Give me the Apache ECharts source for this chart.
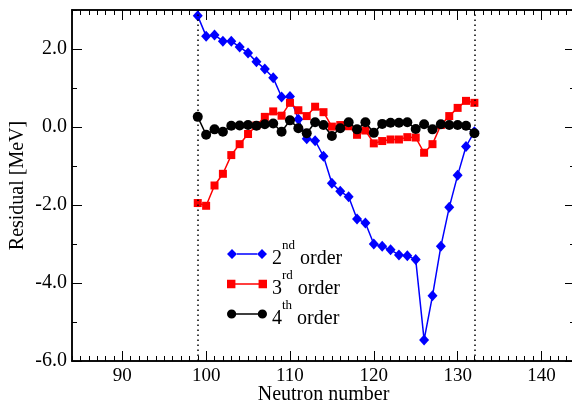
<!DOCTYPE html>
<html>
<head>
<meta charset="utf-8">
<script src="https://cdn.jsdelivr.net/npm/echarts@6/dist/echarts.min.js"></script>
<style>
html,body{margin:0;padding:0;background:#fff;overflow:hidden;}
#wrap{width:572px;height:405px;overflow:hidden;position:relative;}
#chart{width:575px;height:405px;position:absolute;left:0;top:0;}
</style>
</head>
<body>
<div id="wrap"><div id="chart"></div></div>
<script>
// ---- data ----
var neutronNumbers = [99,100,101,102,103,104,105,106,107,108,109,110,111,112,113,114,115,116,117,118,119,120,121,122,123,124,125,126,127,128,129,130,131,132];
var order2 = [2.85,2.33,2.36,2.2,2.2,2.05,1.9,1.67,1.49,1.26,0.77,0.78,0.2,-0.3,-0.35,-0.75,-1.44,-1.65,-1.79,-2.36,-2.46,-3.0,-3.06,-3.15,-3.28,-3.3,-3.4,-5.46,-4.33,-3.06,-2.06,-1.24,-0.5,-0.12];
var order3 = [-1.95,-2.02,-1.5,-1.2,-0.72,-0.44,-0.18,0.04,0.26,0.4,0.29,0.62,0.43,0.28,0.52,0.38,0.01,0.05,0.02,-0.2,-0.09,-0.42,-0.36,-0.32,-0.32,-0.26,-0.27,-0.66,-0.44,0.05,0.28,0.49,0.67,0.62];
var order4 = [0.26,-0.2,-0.06,-0.12,0.03,0.04,0.05,0.03,0.07,0.09,-0.12,0.17,-0.03,-0.16,0.12,0.05,-0.23,-0.03,0.12,-0.06,0.12,-0.15,0.08,0.11,0.11,0.12,-0.05,0.07,-0.06,0.07,0.05,0.05,0.03,-0.16];
var seriesNames = ['2nd order','3rd order','4th order'];
var seriesSup = ['nd','rd','th'];
var xTickValues = [90,100,110,120,130,140];
var yTickValues = [-6,-4,-2,0,2];
var verticalMarks = [99,132];
var xRange = [84,144];
var yRange = [-6,3];

function pairs(xs, ys){ return xs.map(function(x,i){ return [x, ys[i]]; }); }

var FONT = 'Liberation Serif';
var chart = echarts.init(document.getElementById('chart'), null, {renderer:'canvas'});

var iconDiamond = 'path://M0,5L5,0L10,5L5,10Z M30,5L35,0L40,5L35,10Z M10,4.3L30,4.3L30,5.7L10,5.7Z';
var iconSquare = 'path://M1,1L9,1L9,9L1,9Z M31,1L39,1L39,9L31,9Z M9,4.3L31,4.3L31,5.7L9,5.7Z';
var iconCircle = 'path://M0.5,5A4.5,4.5 0 1,1 9.5,5A4.5,4.5 0 1,1 0.5,5Z M30.5,5A4.5,4.5 0 1,1 39.5,5A4.5,4.5 0 1,1 30.5,5Z M9,4.3L31,4.3L31,5.7L9,5.7Z';

function axisLineCfg(show){ return {show:show, onZero:false, lineStyle:{color:'#000', width:1.5}}; }
function xAx(pos, major, withLabel){
  var a = {
    type:'value', position:pos, min:xRange[0], max:xRange[1],
    axisLine: axisLineCfg(true), splitLine:{show:false},
    axisTick:{show:true, inside:true, length: major?10:5, lineStyle:{color:'#000', width:1}},
    axisLabel:{show:false}
  };
  if (major) {
    a.axisTick.customValues = xTickValues;
    a.axisLabel = {show:withLabel, customValues:xTickValues, color:'#000', fontFamily:FONT, fontSize:19, margin:6};
  } else {
    a.interval = 1;
  }
  if (withLabel) {
    a.name = 'Neutron number'; a.nameLocation='middle'; a.nameGap = 24; a.nameMoveOverlap = false;
    a.nameTextStyle = {color:'#000', fontFamily:FONT, fontSize:20};
  }
  return a;
}
function yAx(pos, major, withLabel){
  var a = {
    type:'value', position:pos, min:yRange[0], max:yRange[1],
    axisLine: axisLineCfg(pos === 'left'), splitLine:{show:false},
    axisTick:{show:true, inside:true, length: major?10:5, lineStyle:{color:'#000', width:1}},
    axisLabel:{show:false}
  };
  if (major) {
    a.axisTick.customValues = yTickValues;
    a.axisLabel = {show:withLabel, customValues:yTickValues, color:'#000', fontFamily:FONT, fontSize:20, margin:5,
      formatter:function(v){ return Number(v).toFixed(1); }};
  } else {
    a.interval = 1;
  }
  if (withLabel) {
    a.name = 'Residual [MeV]'; a.nameLocation='middle'; a.nameGap = 44; a.nameMoveOverlap = false;
    a.nameTextStyle = {color:'#000', fontFamily:FONT, fontSize:20};
  }
  return a;
}

var colors = ['#0000ff','#ff0000','#000000'];
var symbols = ['diamond','rect','circle'];
var sizes = [[10,11],8,10];
var datas = [order2, order3, order4];
var icons = [iconDiamond, iconSquare, iconCircle];

var series = datas.map(function(d,i){
  var s = {
    name: seriesNames[i], type:'line', xAxisIndex:0, yAxisIndex:0,
    data: pairs(neutronNumbers, d),
    symbol: symbols[i], symbolSize: sizes[i], showAllSymbol:true,
    lineStyle:{color:colors[i], width:1.5},
    itemStyle:{color:colors[i]},
    animation:false, z: 3+i
  };
  if (i===0) {
    s.markLine = {
      silent:true, symbol:['none','none'], label:{show:false},
      lineStyle:{color:'#000', width:1.5, type:[1.5,3.5]},
      data: verticalMarks.map(function(v){ return {xAxis:v}; }),
      animation:false
    };
  }
  return s;
});

var option = {
  backgroundColor:'#fff',
  animation:false,
  grid:{left:72, top:10, right:0, bottom:44, containLabel:false, outerBoundsMode:'none'},
  xAxis:[xAx('bottom',true,true), xAx('bottom',false,false), xAx('top',true,false), xAx('top',false,false)],
  yAxis:[yAx('left',true,true), yAx('left',false,false), yAx('right',true,false), yAx('right',false,false)],
  legend:{
    orient:'vertical', left:227, top:239, padding:0, itemGap:0,
    itemWidth:40, itemHeight:10,
    data: seriesNames.map(function(n,i){ return {name:n, icon:icons[i], itemStyle:{color:colors[i]}}; }),
    formatter:function(name){
      var i = seriesNames.indexOf(name);
      var parts = name.split(' ');
      var num = parts[0].replace(seriesSup[i],'');
      return '{n|' + num + '}{s|' + seriesSup[i] + '}{n| ' + parts[1] + '}';
    },
    textStyle:{
      color:'#000', fontFamily:FONT, fontSize:20,
      rich:{
        n:{color:'#000', fontFamily:FONT, fontSize:20, lineHeight:30, verticalAlign:'bottom'},
        s:{color:'#000', fontFamily:FONT, fontSize:13, lineHeight:13, verticalAlign:'top'}
      }
    }
  },
  series: series
};
chart.setOption(option);
</script>
</body>
</html>
